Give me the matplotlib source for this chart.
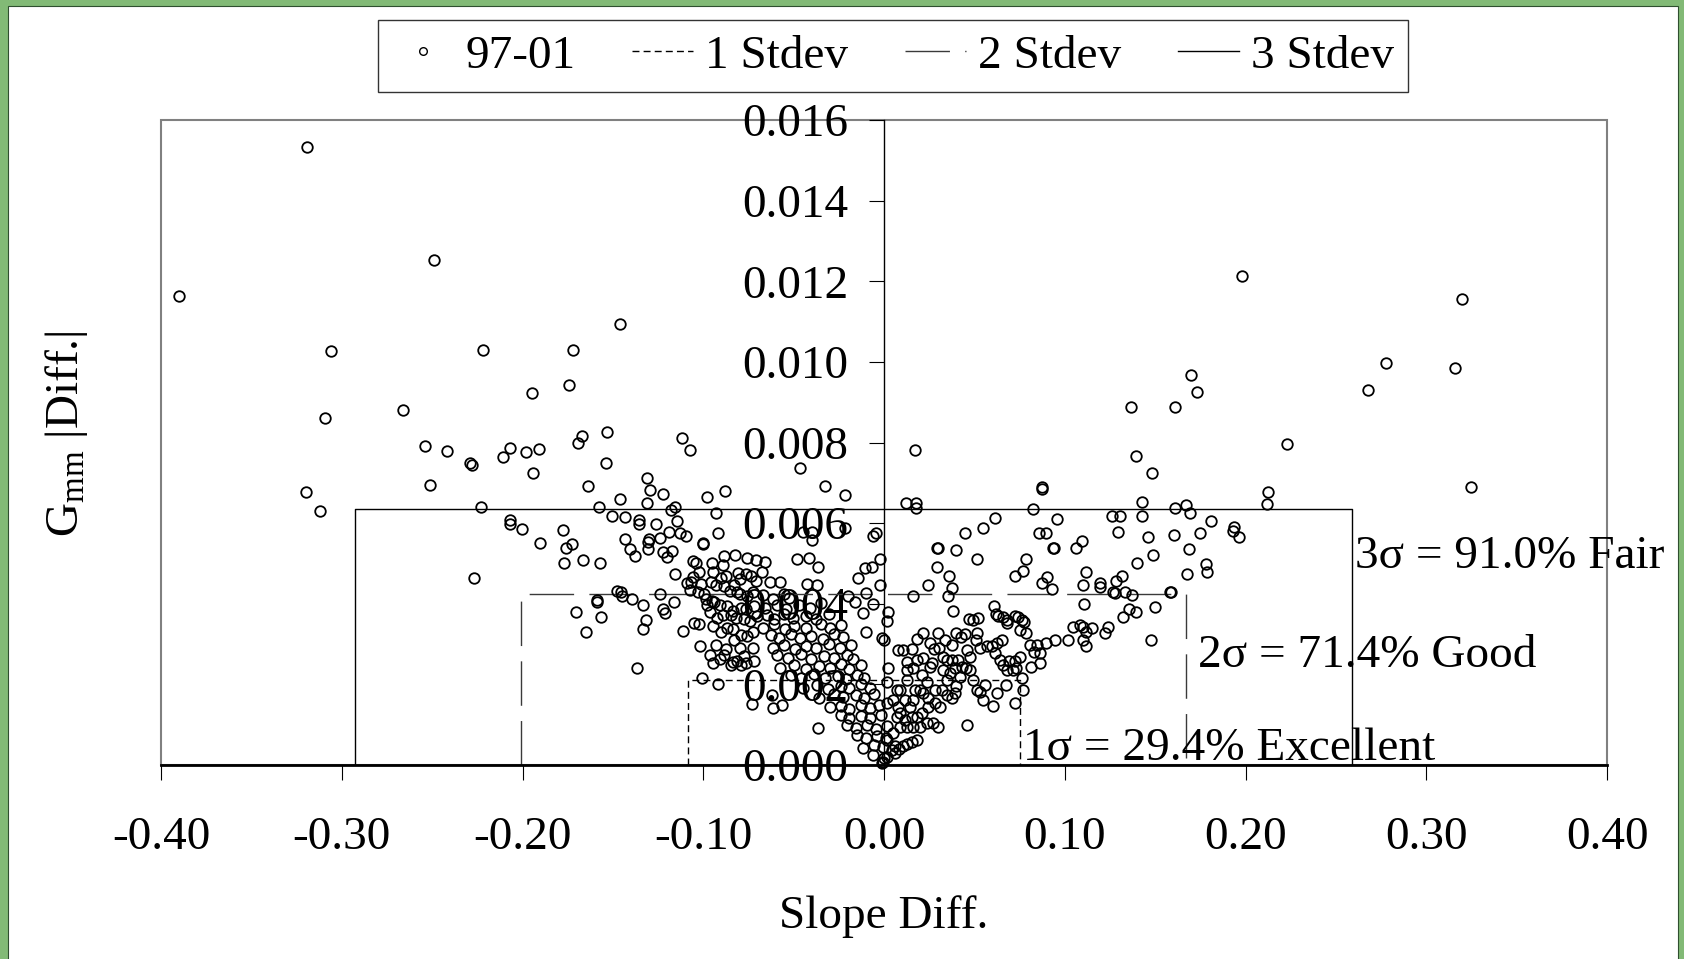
import matplotlib
matplotlib.use('Agg')
import matplotlib.pyplot as plt
from matplotlib.lines import Line2D
from matplotlib.patches import Rectangle
import numpy as np

plt.rcParams['font.family'] = ['Liberation Serif', 'DejaVu Serif']
plt.rcParams['mathtext.fontset'] = 'custom'
plt.rcParams['mathtext.rm'] = 'Liberation Serif'
plt.rcParams['mathtext.it'] = 'Liberation Serif:italic'
plt.rcParams['lines.scale_dashes'] = False

# ---------------- data ----------------
slope_outer = [-0.390, -0.319, -0.249, -0.306, -0.309, -0.320, -0.312, -0.266, -0.254, -0.242,
               -0.229, -0.228, -0.251, -0.222, -0.223, -0.227, -0.146, -0.172, -0.174, -0.195,
               0.017, 0.198, 0.320, 0.316, 0.278, 0.268, 0.325, 0.170, 0.173]
gmm_outer = [0.01163, 0.01533, 0.01252, 0.01027, 0.00861, 0.00677, 0.00629, 0.00880, 0.00792, 0.00779,
             0.00749, 0.00745, 0.00695, 0.01030, 0.00640, 0.00464, 0.01093, 0.01030, 0.00943, 0.00924,
             0.00781, 0.01213, 0.01156, 0.00986, 0.00998, 0.00930, 0.00690, 0.00968, 0.00925]

slope_left = [-0.2108, -0.2067, -0.1981, -0.1911, -0.1942, -0.1695, -0.1671, -0.1533, -0.1538, -0.1640,
              -0.1118, -0.1076, -0.1312, -0.1294, -0.1220, -0.1312, -0.1460, -0.1575, -0.1505, -0.1432,
              -0.1353, -0.1358, -0.1260, -0.1177, -0.1155, -0.1146, -0.1187, -0.1128, -0.1095, -0.1242,
              -0.1300, -0.1305, -0.1307, -0.1220, -0.1174, -0.1198, -0.1432, -0.1404, -0.1376, -0.1776,
              -0.1758, -0.1727, -0.1905, -0.2003, -0.2067, -0.2067, -0.1769, -0.1666, -0.1570, -0.1155,
              -0.0999, -0.0999, -0.0977, -0.0930, -0.0877, -0.0916, -0.1478, -0.1456, -0.1450, -0.1395,
              -0.1334, -0.1588, -0.1588, -0.1703, -0.1564, -0.1647, -0.1242, -0.1225, -0.1211, -0.1161,
              -0.1316, -0.1331, -0.1113, -0.1364, -0.1008, -0.0921, -0.0728]
gmm_left = [0.00763, 0.00786, 0.00777, 0.00783, 0.00724, 0.00800, 0.00817, 0.00825, 0.00749, 0.00691,
            0.00810, 0.00782, 0.00711, 0.00681, 0.00672, 0.00649, 0.00659, 0.00641, 0.00618, 0.00614,
            0.00608, 0.00597, 0.00597, 0.00633, 0.00641, 0.00605, 0.00579, 0.00575, 0.00568, 0.00564,
            0.00560, 0.00554, 0.00535, 0.00529, 0.00532, 0.00515, 0.00560, 0.00536, 0.00519, 0.00583,
            0.00539, 0.00548, 0.00550, 0.00586, 0.00608, 0.00598, 0.00500, 0.00509, 0.00500, 0.00473,
            0.00550, 0.00547, 0.00666, 0.00626, 0.00680, 0.00576, 0.00432, 0.00428, 0.00418, 0.00412,
            0.00397, 0.00409, 0.00405, 0.00380, 0.00368, 0.00331, 0.00424, 0.00386, 0.00376, 0.00405,
            0.00360, 0.00338, 0.00332, 0.00241, 0.00215, 0.00200, 0.00151]

slope_left_core = [-0.1058, -0.1042, -0.1021, -0.1054, -0.1091, -0.1066, -0.1014, -0.1030, -0.1073, -0.0995,
                   -0.0983, -0.0950, -0.0978, -0.1049, -0.1024, -0.1017, -0.0961, -0.0944, -0.0906, -0.0848,
                   -0.0836, -0.0811, -0.0790, -0.0763, -0.0720, -0.0928, -0.0885, -0.0872, -0.0830, -0.0799,
                   -0.0775, -0.0726, -0.0946, -0.0903, -0.0866, -0.0836, -0.0793, -0.0757, -0.0726, -0.0965,
                   -0.0922, -0.0891, -0.0848, -0.0817, -0.0775, -0.0744, -0.0701, -0.0940, -0.0909, -0.0866,
                   -0.0836, -0.0793, -0.0763, -0.0720, -0.0959, -0.0928, -0.0885, -0.0854, -0.0811, -0.0799,
                   -0.0757, -0.0726, -0.0946, -0.0903, -0.0872, -0.0830, -0.0799, -0.0763, -0.0738, -0.0707,
                   -0.0953, -0.0892, -0.0885, -0.0824, -0.0757, -0.0707, -0.0805]
gmm_left_core = [0.00506, 0.00502, 0.00480, 0.00467, 0.00452, 0.00455, 0.00449, 0.00430, 0.00434, 0.00423,
                 0.00412, 0.00406, 0.00397, 0.00353, 0.00350, 0.00295, 0.00273, 0.00252, 0.00264, 0.00249,
                 0.00255, 0.00259, 0.00248, 0.00254, 0.00257, 0.00297, 0.00274, 0.00288, 0.00310, 0.00291,
                 0.00271, 0.00289, 0.00346, 0.00331, 0.00340, 0.00338, 0.00323, 0.00320, 0.00329, 0.00379,
                 0.00365, 0.00373, 0.00371, 0.00364, 0.00363, 0.00357, 0.00370, 0.00404, 0.00398, 0.00395,
                 0.00381, 0.00389, 0.00387, 0.00394, 0.00453, 0.00447, 0.00444, 0.00431, 0.00428, 0.00423,
                 0.00420, 0.00429, 0.00478, 0.00464, 0.00470, 0.00447, 0.00462, 0.00475, 0.00468, 0.00456,
                 0.00502, 0.00497, 0.00519, 0.00521, 0.00514, 0.00508, 0.00477]

slope_center = [-0.0464, -0.0326, -0.0214, -0.0446, -0.0400, -0.0400, -0.0214, -0.0062, -0.0044, -0.0483,
                -0.0413, -0.0363, -0.0022, -0.0142, -0.0105, -0.0068, -0.0100, -0.0022, -0.0427, -0.0372,
                -0.0575, -0.0630, -0.0676, -0.0658, -0.0197, -0.0160, -0.0118, -0.0100, -0.0059, 0.0024,
                0.0015, -0.0013, 0.0000, 0.0079, 0.0024, 0.0015, 0.0070, 0.0052, 0.0079, 0.0015,
                0.0061, 0.0042, 0.0015, -0.0004,
                -0.0672, -0.0616, -0.0553, -0.0524,
                -0.0661, -0.0590, -0.0541, -0.0469, -0.0412, -0.0350,
                -0.0646, -0.0607, -0.0553, -0.0505, -0.0433, -0.0376, -0.0305,
                -0.0670, -0.0608, -0.0550, -0.0497, -0.0431, -0.0350, -0.0301, -0.0239,
                -0.0627, -0.0579, -0.0516, -0.0467, -0.0405, -0.0338, -0.0276, -0.0228,
                -0.0615, -0.0553, -0.0495, -0.0433, -0.0375, -0.0304, -0.0246, -0.0184,
                -0.0590, -0.0532, -0.0460, -0.0403, -0.0331, -0.0274, -0.0202, -0.0172,
                -0.0578, -0.0497, -0.0430, -0.0359, -0.0301, -0.0239, -0.0191, -0.0129,
                -0.0516, -0.0458, -0.0386, -0.0329, -0.0257, -0.0209, -0.0147, -0.0108,
                -0.0449, -0.0368, -0.0311, -0.0239, -0.0191, -0.0129, -0.0080,
                -0.0617, -0.0357, -0.0276, -0.0228, -0.0156, -0.0108, -0.0055,
                -0.0615, -0.0562, -0.0301, -0.0239, -0.0191, -0.0129, -0.0080, -0.0027,
                -0.0239, -0.0191, -0.0129, -0.0080, -0.0018,
                -0.0366, -0.0202, -0.0154, -0.0092, -0.0043, 0.0019,
                -0.0147, -0.0099, -0.0036, 0.0011,
                -0.0117, -0.0055, -0.0007,
                -0.0062, 0.0000,
                -0.0013]
gmm_center = [0.00736, 0.00692, 0.00670, 0.00579, 0.00579, 0.00558, 0.00587, 0.00567, 0.00576, 0.00510,
              0.00514, 0.00491, 0.00511, 0.00463, 0.00488, 0.00490, 0.00426, 0.00447, 0.00449, 0.00447,
              0.00455, 0.00455, 0.00480, 0.00504, 0.00418, 0.00405, 0.00378, 0.00331, 0.00400, 0.00380,
              0.00356, 0.00314, 0.00310, 0.00285, 0.00240, 0.00207, 0.00186, 0.00161, 0.00145, 0.00062,
              0.00046, 0.00037, 0.00021, 0.00008,
              0.00421, 0.00412, 0.00425, 0.00415,
              0.00390, 0.00398, 0.00386, 0.00396, 0.00389, 0.00401,
              0.00372, 0.00362, 0.00375, 0.00365, 0.00370, 0.00361, 0.00374,
              0.00340, 0.00349, 0.00337, 0.00346, 0.00339, 0.00350, 0.00341, 0.00347,
              0.00322, 0.00314, 0.00325, 0.00316, 0.00321, 0.00312, 0.00324, 0.00317,
              0.00290, 0.00298, 0.00287, 0.00296, 0.00291, 0.00300, 0.00289, 0.00297,
              0.00273, 0.00265, 0.00275, 0.00263, 0.00271, 0.00266, 0.00274, 0.00262,
              0.00240, 0.00248, 0.00238, 0.00246, 0.00241, 0.00250, 0.00239, 0.00247,
              0.00223, 0.00215, 0.00226, 0.00217, 0.00222, 0.00213, 0.00224, 0.00216,
              0.00191, 0.00199, 0.00188, 0.00197, 0.00192, 0.00200, 0.00190,
              0.00174, 0.00166, 0.00176, 0.00168, 0.00173, 0.00165, 0.00175,
              0.00141, 0.00149, 0.00143, 0.00147, 0.00140, 0.00150, 0.00142, 0.00148,
              0.00124, 0.00116, 0.00122, 0.00117, 0.00125,
              0.00091, 0.00099, 0.00093, 0.00098, 0.00090, 0.00097,
              0.00074, 0.00067, 0.00072, 0.00066,
              0.00043, 0.00049, 0.00044,
              0.00024, 0.00018,
              0.00004]

slope_right = [0.0122, 0.0177, 0.0177, 0.0449, 0.0546, 0.0612, 0.0822, 0.0872, 0.0872, 0.0955,
               0.0857, 0.0899, 0.0936, 0.0940, 0.0785, 0.0767, 0.0724, 0.0903, 0.0875, 0.0932,
               0.1061, 0.0295, 0.0300, 0.0396, 0.0512, 0.0295, 0.0361, 0.0376, 0.0245, 0.0159,
               0.0352, 0.0380, 0.0608,
               0.0619, 0.0632, 0.0660, 0.0682, 0.0678, 0.0724, 0.0743, 0.0761, 0.0774, 0.0752,
               0.0785, 0.0426, 0.0446, 0.0472, 0.0494, 0.0518, 0.0512, 0.0217, 0.0184, 0.0153,
               0.0103, 0.0278, 0.0304, 0.0328, 0.0347, 0.0374, 0.0411, 0.0430, 0.0453, 0.0475,
               0.0507, 0.0531, 0.0568, 0.0595, 0.0614, 0.0626, 0.0651, 0.0641, 0.0678, 0.0715,
               0.0733, 0.0761, 0.0770, 0.0674, 0.0623, 0.0601, 0.0549, 0.0531, 0.0558, 0.0512,
               0.0494, 0.0457, 0.0724, 0.0807, 0.0844, 0.0862, 0.0862, 0.0829, 0.0816, 0.0752,
               0.0693, 0.0724, 0.0660, 0.1047, 0.1083, 0.1019, 0.0894, 0.0945,
               0.0125, 0.0162, 0.0208, 0.0254, 0.0263, 0.0125, 0.0171, 0.0088, 0.0116, 0.0162,
               0.0245, 0.0282, 0.0319, 0.0346, 0.0374, 0.0392, 0.0282, 0.0245, 0.0309, 0.0208,
               0.0180, 0.0153, 0.0116, 0.0070, 0.0015, 0.0088, 0.0125, 0.0162, 0.0199, 0.0236,
               0.0273, 0.0300, 0.0180, 0.0052, 0.0107, 0.0328, 0.0365, 0.0392, 0.0420, 0.0401,
               0.0346, 0.0236, 0.0199, 0.0217, 0.0143, 0.0088, 0.0254, 0.0300, 0.0337, 0.0374,
               0.0401, 0.0457, 0.0475, 0.0217, 0.0180, 0.0125, 0.0060, 0.0085, 0.0130, 0.0155]
gmm_right = [0.00649, 0.00649, 0.00638, 0.00576, 0.00587, 0.00613, 0.00634, 0.00689, 0.00684, 0.00610,
             0.00576, 0.00576, 0.00538, 0.00538, 0.00512, 0.00481, 0.00469, 0.00466, 0.00452, 0.00436,
             0.00538, 0.00539, 0.00538, 0.00533, 0.00512, 0.00490, 0.00469, 0.00440, 0.00446, 0.00420,
             0.00420, 0.00383, 0.00395,
             0.00374, 0.00370, 0.00368, 0.00360, 0.00352, 0.00370, 0.00368, 0.00360, 0.00354, 0.00335,
             0.00327, 0.00318, 0.00325, 0.00362, 0.00360, 0.00364, 0.00327, 0.00327, 0.00313, 0.00288,
             0.00285, 0.00288, 0.00290, 0.00269, 0.00260, 0.00260, 0.00260, 0.00244, 0.00240, 0.00236,
             0.00310, 0.00290, 0.00294, 0.00294, 0.00277, 0.00302, 0.00310, 0.00260, 0.00236, 0.00236,
             0.00240, 0.00215, 0.00186, 0.00199, 0.00178, 0.00146, 0.00161, 0.00182, 0.00199, 0.00186,
             0.00211, 0.00099, 0.00153, 0.00298, 0.00298, 0.00277, 0.00252, 0.00281, 0.00244, 0.00269,
             0.00258, 0.00257, 0.00248, 0.00343, 0.00347, 0.00310, 0.00302, 0.00310,
             0.00236, 0.00240, 0.00223, 0.00244, 0.00252, 0.00211, 0.00186, 0.00186, 0.00161, 0.00161,
             0.00166, 0.00186, 0.00186, 0.00174, 0.00166, 0.00178, 0.00153, 0.00145, 0.00145, 0.00128,
             0.00120, 0.00120, 0.00112, 0.00120, 0.00153, 0.00095, 0.00095, 0.00095, 0.00095, 0.00103,
             0.00103, 0.00095, 0.00062, 0.00079, 0.00046, 0.00236, 0.00228, 0.00240, 0.00219, 0.00195,
             0.00211, 0.00207, 0.00186, 0.00178, 0.00145, 0.00128, 0.00302, 0.00327, 0.00310, 0.00298,
             0.00327, 0.00285, 0.00269, 0.00265, 0.00260, 0.00256, 0.00030, 0.00040, 0.00052, 0.00058]

slope_right_outer = [0.1364, 0.1610, 0.1393, 0.1483, 0.2230, 0.2125, 0.2117, 0.1428, 0.1428, 0.1264,
                     0.1308, 0.1296, 0.1612, 0.1673, 0.1692, 0.1808, 0.1747, 0.1603, 0.1461, 0.1935,
                     0.1931, 0.1962, 0.1686, 0.1489, 0.1402, 0.1780, 0.1789, 0.1679, 0.1120, 0.1102,
                     0.1194, 0.1194, 0.1282, 0.1319, 0.1268, 0.1277, 0.1332, 0.1374, 0.1585, 0.1590,
                     0.1105, 0.1356, 0.1323, 0.1393, 0.1500, 0.1102, 0.1148, 0.1120, 0.1102, 0.1120,
                     0.1240, 0.1222, 0.1476, 0.1095]
gmm_right_outer = [0.00888, 0.00889, 0.00767, 0.00725, 0.00797, 0.00676, 0.00647, 0.00653, 0.00618, 0.00617,
                   0.00617, 0.00579, 0.00637, 0.00645, 0.00626, 0.00605, 0.00575, 0.00571, 0.00565, 0.00591,
                   0.00581, 0.00565, 0.00535, 0.00522, 0.00502, 0.00499, 0.00478, 0.00474, 0.00480, 0.00447,
                   0.00451, 0.00442, 0.00457, 0.00469, 0.00428, 0.00427, 0.00428, 0.00422, 0.00428, 0.00428,
                   0.00400, 0.00387, 0.00368, 0.00379, 0.00391, 0.00343, 0.00339, 0.00331, 0.00310, 0.00294,
                   0.00343, 0.00327, 0.00310, 0.00556]

# standard-deviation boxes
sigma_names = ['1 Stdev', '2 Stdev', '3 Stdev']
sigma_slope_lo = [-0.1087, -0.2007, -0.2925]
sigma_slope_hi = [0.0750, 0.1669, 0.2589]
sigma_gmm = [0.00212, 0.00424, 0.00635]
sigma_text = ['1σ = 29.4% Excellent', '2σ = 71.4% Good', '3σ = 91.0% Fair']

x_ticks = [-0.40, -0.30, -0.20, -0.10, 0.00, 0.10, 0.20, 0.30, 0.40]
y_ticks = [0.000, 0.002, 0.004, 0.006, 0.008, 0.010, 0.012, 0.014, 0.016]

series_label = '97-01'

# ---------------- figure ----------------
W, H = 1684, 959
fig = plt.figure(figsize=(W / 100, H / 100), dpi=100)
fig.patch.set_facecolor('#82ba76')
fig.add_artist(Rectangle((8 / W, -0.01), (1678 - 8) / W, 1.01 - 6 / H,
                         transform=fig.transFigure, facecolor='white',
                         edgecolor='#2f4f2f', lw=0.8, zorder=0))

ax = fig.add_axes([161 / W, (H - 765) / H, (1607 - 161) / W, (765 - 120) / H])
ax.patch.set_alpha(0)
ax.set_xlim(-0.4, 0.4)
ax.set_ylim(0, 0.016)

# plot-area border
ax.add_patch(Rectangle((0, 0), 1, 1, transform=ax.transAxes, fill=False,
                       edgecolor='#808080', lw=1.5, zorder=0.5, clip_on=False))
for s in ['top', 'right']:
    ax.spines[s].set_visible(False)
ax.spines['left'].set_position(('data', 0))
ax.spines['left'].set_color('black')
ax.spines['left'].set_linewidth(1.0)
ax.spines['bottom'].set_color('black')
ax.spines['bottom'].set_linewidth(2.0)
ax.spines['left'].set_zorder(4)
ax.spines['bottom'].set_zorder(4)

ax.set_xticks(x_ticks)
ax.set_xticklabels([f'{v:.2f}' for v in x_ticks])
ax.set_yticks(y_ticks)
ax.set_yticklabels([f'{v:.3f}' for v in y_ticks])
ax.tick_params(axis='x', direction='out', length=10.8, width=0.8, pad=26, labelsize=34)
ax.tick_params(axis='y', direction='out', length=10.8, width=0.8, pad=15, labelsize=34)

# sigma boxes
styles = [(0, (5, 3)), (0, (32, 11)), '-']
colors = ['black', '#3a3a3a', 'black']
for lo, hi, g, st, c in zip(sigma_slope_lo, sigma_slope_hi, sigma_gmm, styles, colors):
    ax.plot([lo, lo, hi, hi], [0, g, g, 0], ls=st, color=c, lw=1.0, zorder=2)

# points
all_slope = slope_outer + slope_left + slope_left_core + slope_center + slope_right + slope_right_outer
all_gmm = gmm_outer + gmm_left + gmm_left_core + gmm_center + gmm_right + gmm_right_outer
ax.plot(all_slope, all_gmm, ls='none', marker='o', ms=7.6, mfc='none', mec='black',
        mew=1.3, zorder=3, clip_on=False)

# sigma annotations
text_x = [0.0767, 0.1739, 0.2604]
text_y = [0.000124, 0.00243, 0.00489]
for t, tx, ty in zip(sigma_text, text_x, text_y):
    ax.text(tx, ty, t, fontsize=34, ha='left', va='baseline', zorder=5)

# axis labels
fig.text(66 / W, 1 - 434 / H, r'G$_{\mathrm{mm}}$ |Diff.|', rotation=90,
         ha='center', va='center', fontsize=34)
fig.text(884 / W, 1 - 928 / H, 'Slope Diff.', ha='center', va='baseline', fontsize=34)

# legend
handles = [Line2D([], [], ls='none', marker='o', ms=5.5, mfc='none', mec='black', mew=1.0)]
for st, c in zip(styles, colors):
    handles.append(Line2D([], [], ls=st, color=c, lw=1.0))
labels = [series_label] + sigma_names
leg = fig.legend(handles, labels, loc='center', bbox_to_anchor=(893 / W, 1 - 56 / H),
                 ncol=4, fontsize=34, frameon=True, fancybox=False, edgecolor='black',
                 handlelength=1.3, handletextpad=0.25, columnspacing=1.2, borderpad=0.3,
                 numpoints=1)
leg.get_frame().set_linewidth(1.0)

fig.savefig('out.png', dpi=100)
